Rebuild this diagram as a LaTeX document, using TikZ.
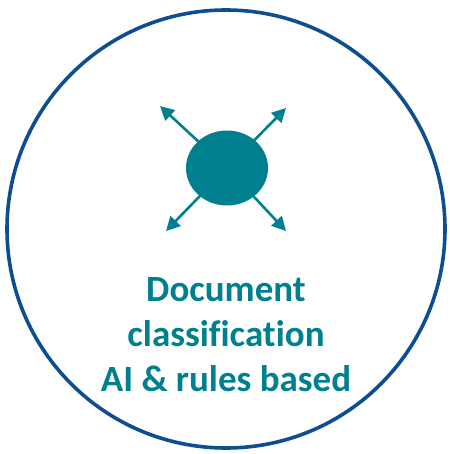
\documentclass[tikz,border=0pt]{standalone}
\usepackage{fontspec}
\setmainfont{Carlito}[Ligatures=NoCommon]
\usetikzlibrary{arrows.meta, positioning, shapes}
\definecolor{ringblue}{RGB}{14,78,144}
\definecolor{teal}{RGB}{0,128,143}
\tikzstyle{spread}=[-{Triangle[length=14pt,width=14pt]}, line width=2.6pt, color=teal]

\begin{document}
\begin{tikzpicture}[x=1pt, y=-1pt]
		
		\useasboundingbox (0,0) rectangle (449,454);
		
		% Outer ring
		\draw[line width=3.6pt, color=ringblue] (226,229) circle (219);
		
		% Hub
		\node[fill=teal, ellipse, minimum width=82pt, minimum height=75pt, inner sep=0pt] (hub) at (227,168) {};
		
		% Arrow tips
		\coordinate (nw) at (160,106);
		\coordinate (ne) at (286,108);
		\coordinate (sw) at (166,231);
		\coordinate (se) at (286,231);
		
		\foreach \t in {nw,ne,sw,se}
		\draw[spread, shorten <=-1pt] (hub) -- (\t);
		
		% Caption
		\node[align=center, text=teal, font=\fontsize{37}{45}\selectfont\bfseries] (caption) at (226,335)
		{Document\\classification\\AI \& rules based};
		
	\end{tikzpicture}
\end{document}
